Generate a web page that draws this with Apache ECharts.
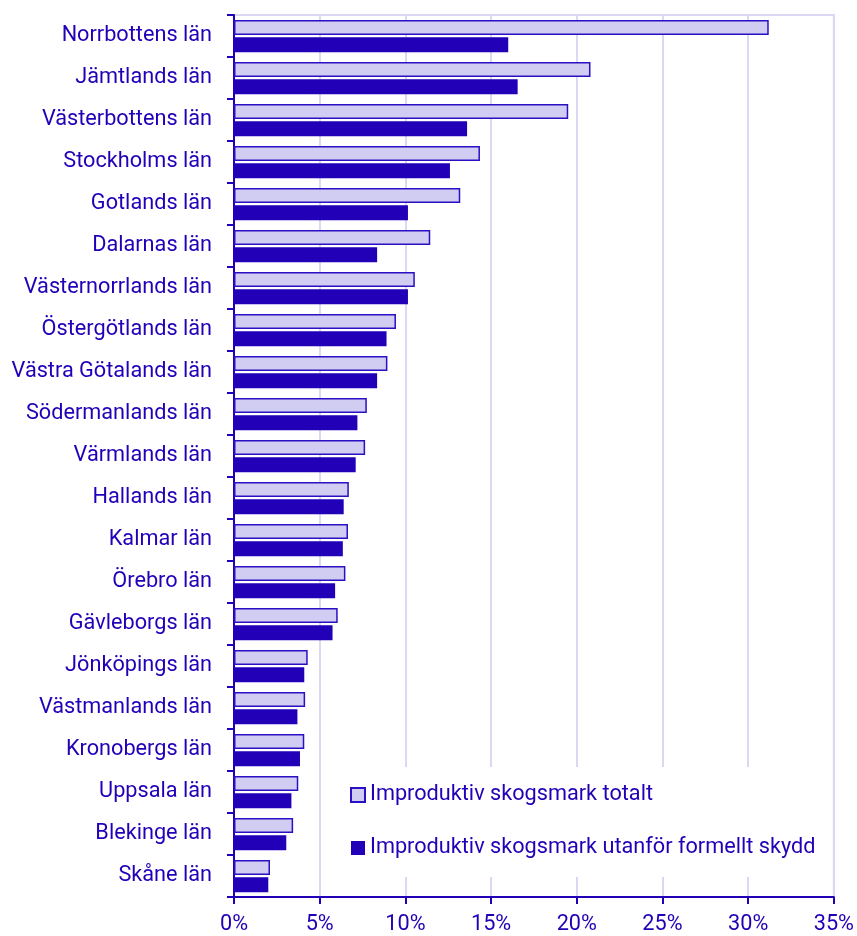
<!DOCTYPE html>
<html>
<head>
<meta charset="utf-8">
<script src="https://cdn.jsdelivr.net/npm/echarts@6/dist/echarts.min.js"></script>
<style>
html,body{margin:0;padding:0;background:#fff;}
#chart{width:857px;height:936px;}
</style>
</head>
<body>
<div id="chart"></div>
<script>
const categories = ["Norrbottens län","Jämtlands län","Västerbottens län","Stockholms län","Gotlands län","Dalarnas län","Västernorrlands län","Östergötlands län","Västra Götalands län","Södermanlands län","Värmlands län","Hallands län","Kalmar län","Örebro län","Gävleborgs län","Jönköpings län","Västmanlands län","Kronobergs län","Uppsala län","Blekinge län","Skåne län"];
const totalt = [31.2,20.8,19.5,14.35,13.2,11.45,10.55,9.45,8.95,7.75,7.65,6.7,6.65,6.5,6.05,4.3,4.15,4.1,3.75,3.45,2.1];
const utanforSkydd = [16.0,16.55,13.6,12.6,10.15,8.35,10.15,8.9,8.35,7.2,7.1,6.4,6.35,5.9,5.75,4.1,3.7,3.85,3.35,3.05,2.0];
const seriesNames = ["Improduktiv skogsmark totalt","Improduktiv skogsmark utanför formellt skydd"];

const C = '#2200B8';
const FONT = 'Roboto';
const FS = 21.7;
const chart = echarts.init(document.getElementById('chart'), null, {renderer:'canvas'});
chart.setOption({
  animation:false,
  backgroundColor:'#fff',
  grid:{left:234,right:21,top:15,bottom:39,show:true,borderColor:'#DAD8F3',borderWidth:2,backgroundColor:'transparent'},
  legend:{
    orient:'vertical', left:338, top:767,
    backgroundColor:'#fff',
    padding:[17,10,18,12],
    itemGap:31, itemWidth:14, itemHeight:14, icon:'rect',
    textStyle:{color:C,fontFamily:FONT,fontSize:FS,lineHeight:22},
    data:seriesNames
  },
  xAxis:{
    type:'value', min:0, max:35, interval:5,
    axisLabel:{formatter:'{value}%',color:C,fontFamily:FONT,fontSize:FS,margin:17},
    axisLine:{show:true,lineStyle:{color:C,width:2}},
    axisTick:{show:true,length:7,lineStyle:{color:C,width:2}},
    splitLine:{show:true,lineStyle:{color:'#DAD8F3',width:2}}
  },
  yAxis:{
    type:'category', inverse:true, data:categories,
    axisLabel:{color:C,fontFamily:FONT,fontSize:FS,margin:22,padding:[6,0,0,0]},
    axisLine:{show:true,lineStyle:{color:C,width:2}},
    axisTick:{show:true,length:7,lineStyle:{color:C,width:2}},
    splitLine:{show:false}
  },
  series:[
    {name:seriesNames[0],type:'bar',data:totalt,barWidth:15,barGap:'15%',
     itemStyle:{color:'#D1CCF1',borderColor:'#2A10C4',borderWidth:1.5}},
    {name:seriesNames[1],type:'bar',data:utanforSkydd,barWidth:15,barGap:'15%',
     itemStyle:{color:C}}
  ]
});
</script>
</body>
</html>
